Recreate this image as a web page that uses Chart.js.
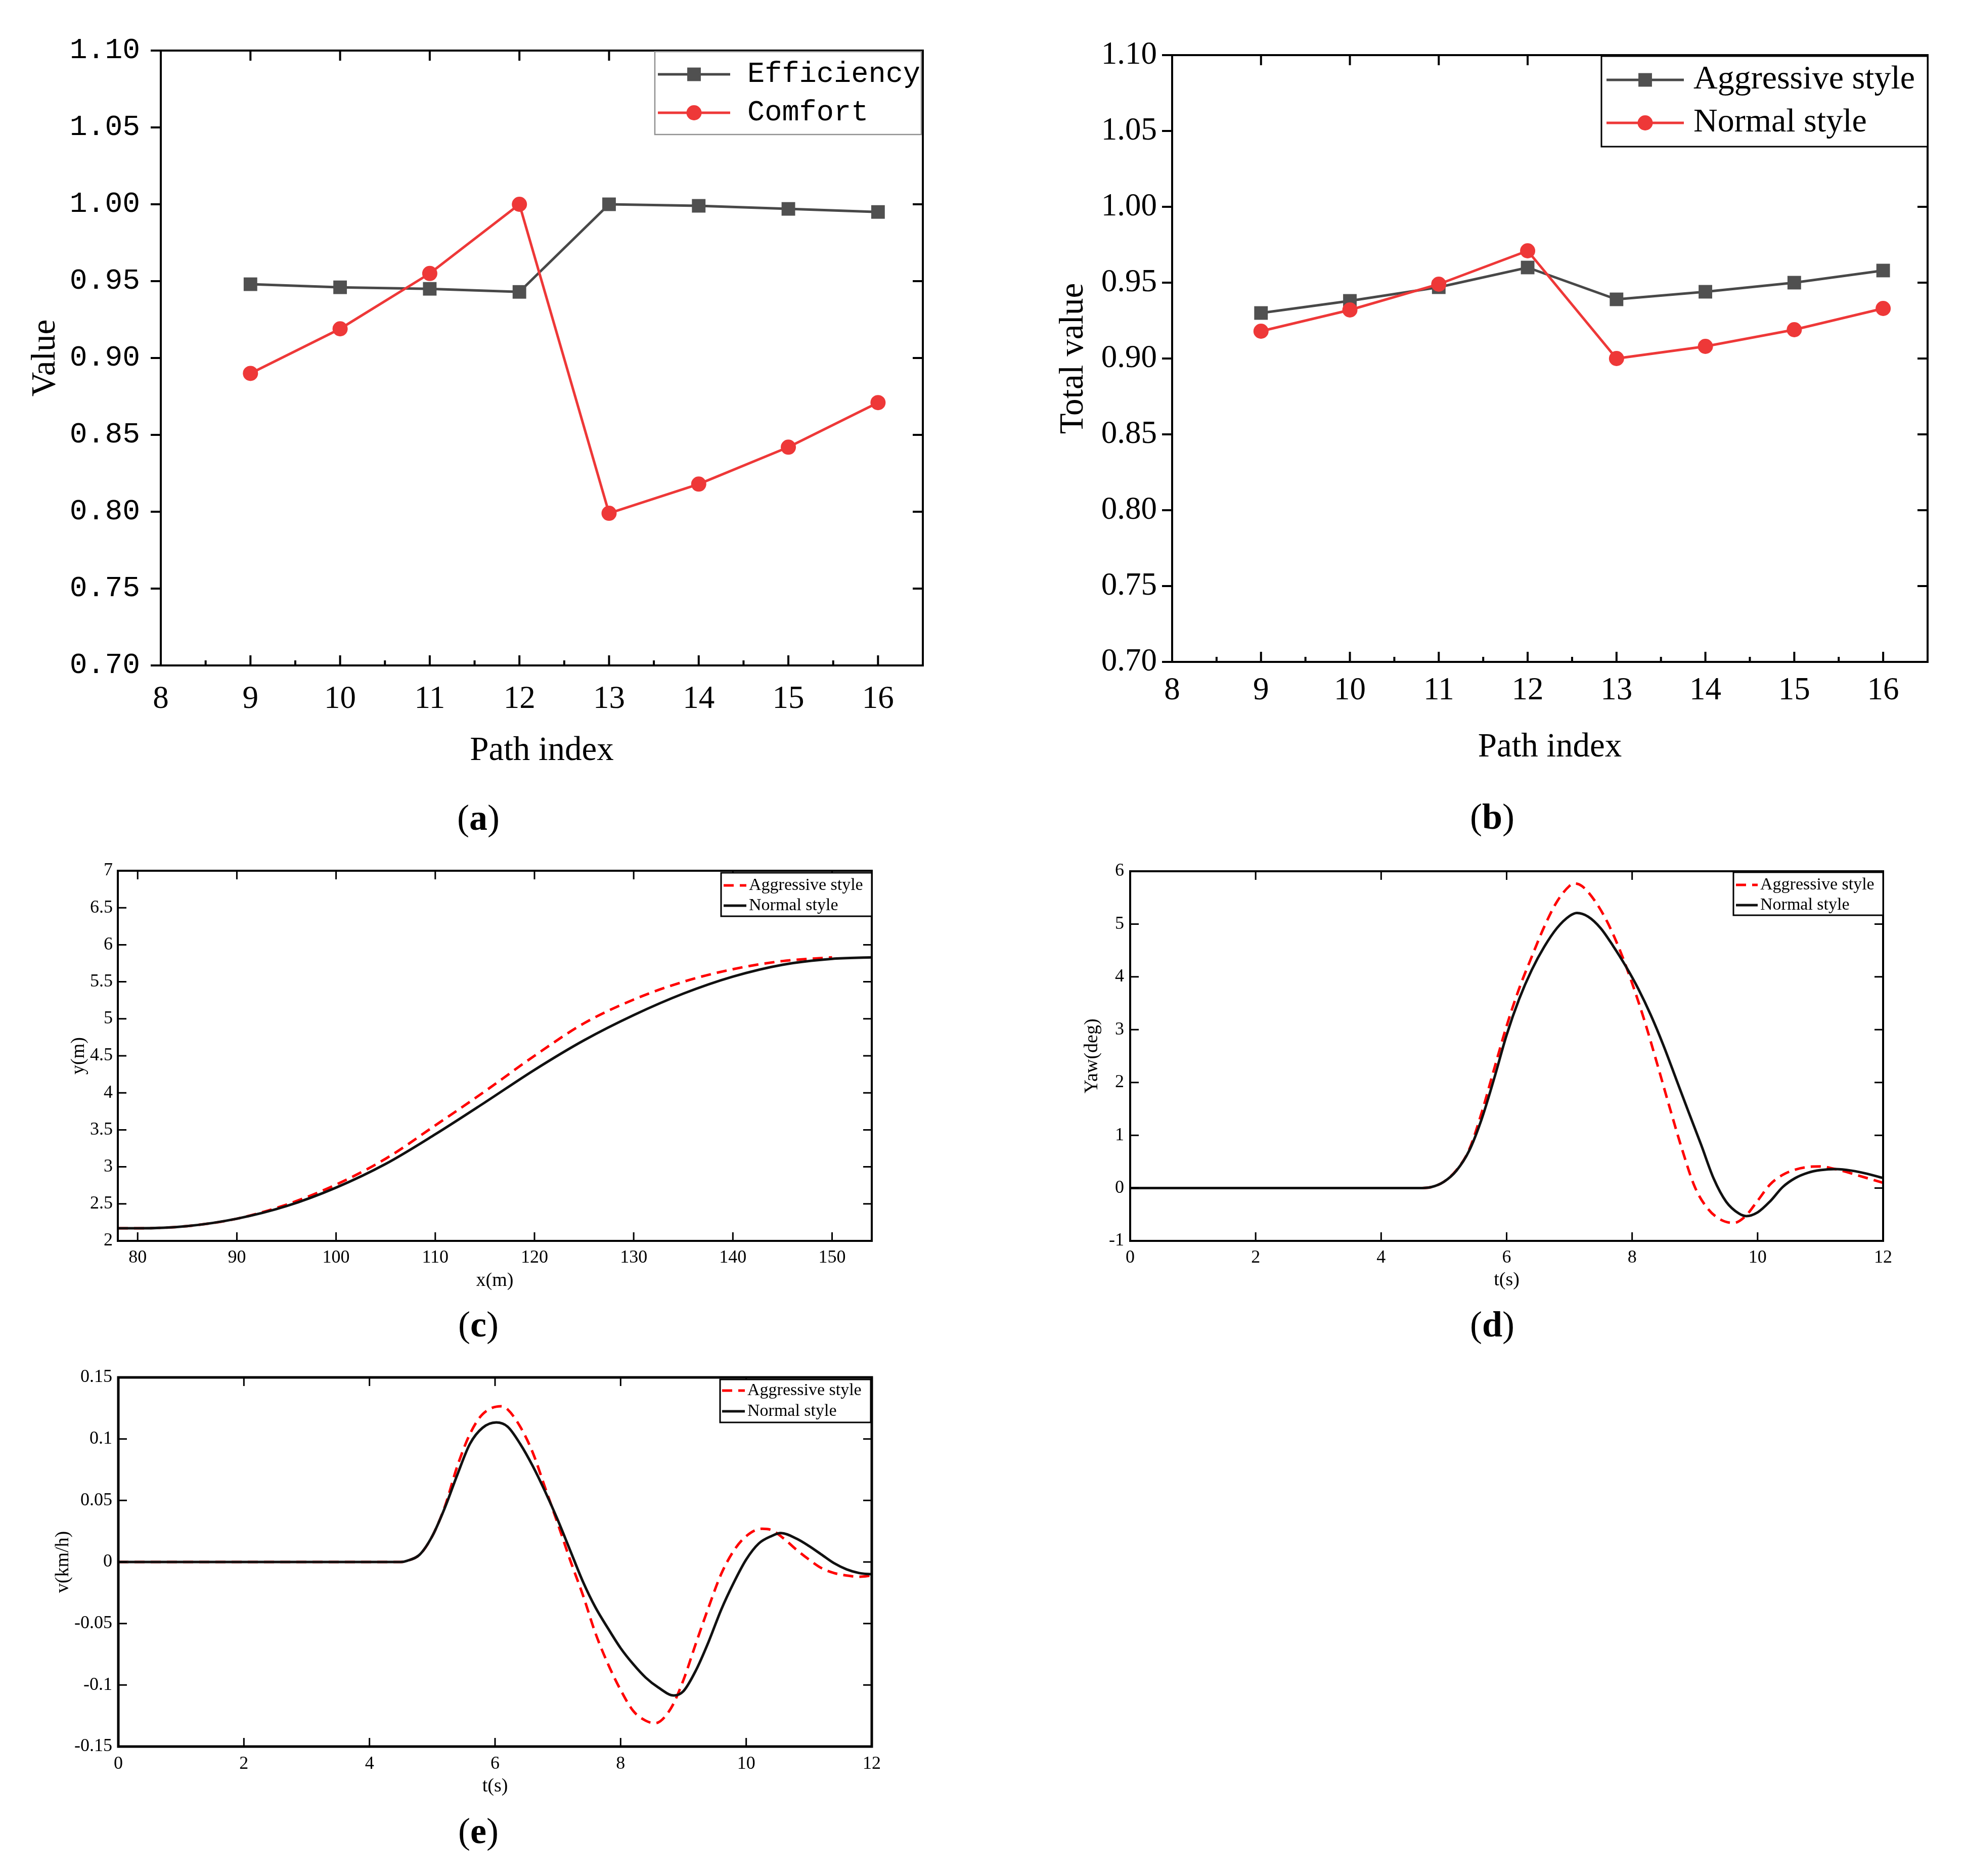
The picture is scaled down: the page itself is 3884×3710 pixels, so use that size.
<!DOCTYPE html>
<html>
<head>
<meta charset="utf-8">
<script src="https://cdn.jsdelivr.net/npm/chart.js@4.4.1/dist/chart.umd.min.js"></script>
<style>
html, body { margin: 0; padding: 0; background: #fff; }
#page { position: relative; width: 3884px; height: 3710px; background: #fff; overflow: hidden; }
canvas { position: absolute; }
.cap { position: absolute; font-family: "Liberation Serif", serif; font-size: 72px; line-height: 1;
       transform: translate(-50%, -50%); white-space: nowrap; color: #000; }
</style>
</head>
<body>
<div id="page">
  <canvas id="pa"></canvas>
  <canvas id="pb"></canvas>
  <canvas id="pc"></canvas>
  <canvas id="pd"></canvas>
  <canvas id="pe"></canvas>
  <div class="cap" style="left:946px;top:1617px">(<b>a</b>)</div>
  <div class="cap" style="left:2951px;top:1615px">(<b>b</b>)</div>
  <div class="cap" style="left:946px;top:2619px">(<b>c</b>)</div>
  <div class="cap" style="left:2951px;top:2619px">(<b>d</b>)</div>
  <div class="cap" style="left:946px;top:3621px">(<b>e</b>)</div>
</div>
<script>
// ---- (a) / (b) path evaluation
const pathIndex = [9, 10, 11, 12, 13, 14, 15, 16];
const efficiency = [0.948, 0.946, 0.945, 0.943, 1.000, 0.999, 0.997, 0.995];
const comfort = [0.890, 0.919, 0.955, 1.000, 0.799, 0.818, 0.842, 0.871];
const totalAggressive = [0.930, 0.938, 0.947, 0.960, 0.939, 0.944, 0.950, 0.958];
const totalNormal = [0.918, 0.932, 0.949, 0.971, 0.900, 0.908, 0.919, 0.933];
const pathTicks = [8, 9, 10, 11, 12, 13, 14, 15, 16];
const valueTicks = [0.70, 0.75, 0.80, 0.85, 0.90, 0.95, 1.00, 1.05, 1.10];

// ---- (c) trajectory y(x)
const xPos = [78, 80, 85, 90, 95, 100, 105, 110, 115, 120, 125, 130, 135, 140, 145, 150, 154];
const yNormal = [2.17, 2.17, 2.20, 2.30, 2.47, 2.72, 3.04, 3.44, 3.87, 4.31, 4.71, 5.05, 5.34, 5.57, 5.73, 5.81, 5.83];
const xPosAggr = [78, 80, 85, 90, 95, 100, 105, 110, 115, 120, 125, 130, 135, 140, 145, 150];
const yAggr = [2.17, 2.17, 2.20, 2.30, 2.49, 2.76, 3.11, 3.56, 4.02, 4.50, 4.94, 5.26, 5.50, 5.67, 5.78, 5.83];
const xmTicks = [80, 90, 100, 110, 120, 130, 140, 150];
const ymTicks = [2, 2.5, 3, 3.5, 4, 4.5, 5, 5.5, 6, 6.5, 7];

// ---- (d) yaw angle
const tYawNormal = [0, 4.6, 4.8, 5.0, 5.2, 5.4, 5.6, 5.8, 6.0, 6.2, 6.4, 6.6, 6.8, 7.0, 7.12, 7.3, 7.5, 7.7, 7.9,
  8.1, 8.3, 8.5, 8.7, 8.9, 9.1, 9.3, 9.5, 9.7, 9.82, 10.0, 10.2, 10.4, 10.6, 10.8, 11.0, 11.25, 11.5, 11.75, 12.0];
const yawNormal = [0, 0, 0.02, 0.12, 0.33, 0.70, 1.30, 2.07, 2.90, 3.58, 4.13, 4.57, 4.92, 5.15, 5.21, 5.14, 4.92, 4.58, 4.20,
  3.77, 3.27, 2.70, 2.07, 1.44, 0.82, 0.18, -0.26, -0.48, -0.53, -0.46, -0.25, 0.02, 0.19, 0.29, 0.34, 0.36, 0.33, 0.27, 0.19];
const tYawAggr = [0, 4.6, 4.8, 5.0, 5.2, 5.4, 5.6, 5.8, 6.0, 6.2, 6.4, 6.6, 6.8, 7.0, 7.08, 7.2, 7.4, 7.6, 7.8,
  8.0, 8.2, 8.4, 8.6, 8.8, 9.0, 9.2, 9.4, 9.62, 9.8, 10.0, 10.2, 10.4, 10.6, 10.8, 11.0, 11.2, 11.4, 11.6, 11.8, 12.0];
const yawAggr = [0, 0, 0.02, 0.12, 0.34, 0.72, 1.42, 2.25, 3.07, 3.78, 4.38, 4.95, 5.42, 5.72, 5.77, 5.72, 5.45, 5.05, 4.52,
  3.88, 3.16, 2.35, 1.52, 0.72, 0.02, -0.38, -0.59, -0.66, -0.54, -0.24, 0.07, 0.25, 0.35, 0.40, 0.41, 0.37, 0.31, 0.24, 0.17, 0.10];
const timeTicks = [0, 2, 4, 6, 8, 10, 12];
const yawTicks = [-1, 0, 1, 2, 3, 4, 5, 6];

// ---- (e) lateral velocity
const tVelNormal = [0, 4.5, 4.6, 4.8, 5.0, 5.2, 5.4, 5.6, 5.8, 6.02, 6.2, 6.4, 6.6, 6.8, 7.0, 7.2, 7.4, 7.6, 7.8, 8.0,
  8.2, 8.4, 8.6, 8.85, 9.0, 9.2, 9.4, 9.6, 9.8, 10.0, 10.2, 10.4, 10.55, 10.8, 11.0, 11.2, 11.4, 11.6, 11.8, 12.0];
const velNormal = [0, 0, 0.001, 0.006, 0.021, 0.044, 0.071, 0.096, 0.109, 0.1134, 0.110, 0.096, 0.078, 0.057, 0.034, 0.009,
  -0.016, -0.037, -0.054, -0.070, -0.083, -0.094, -0.102, -0.1085, -0.105, -0.088, -0.065, -0.039, -0.017, 0.002,
  0.015, 0.021, 0.0235, 0.019, 0.013, 0.006, -0.001, -0.006, -0.009, -0.010];
const tVelAggr = [0, 4.5, 4.6, 4.8, 5.0, 5.2, 5.4, 5.6, 5.8, 6.1, 6.2, 6.4, 6.6, 6.8, 7.0, 7.2, 7.4, 7.6, 7.8, 8.0,
  8.2, 8.4, 8.55, 8.8, 9.0, 9.2, 9.4, 9.6, 9.8, 10.0, 10.25, 10.4, 10.6, 10.8, 11.0, 11.2, 11.4, 11.6, 11.8, 12.0];
const velAggr = [0, 0, 0.001, 0.006, 0.021, 0.045, 0.078, 0.104, 0.120, 0.1266, 0.124, 0.110, 0.089, 0.060, 0.031, 0.001,
  -0.027, -0.058, -0.083, -0.104, -0.121, -0.129, -0.131, -0.119, -0.096, -0.066, -0.037, -0.010, 0.009, 0.021,
  0.027, 0.026, 0.019, 0.010, 0.002, -0.005, -0.009, -0.011, -0.012, -0.011];
const velTicks = [-0.15, -0.1, -0.05, 0, 0.05, 0.1, 0.15];

const pairs = (xs, ys) => xs.map((x, i) => ({ x: x, y: ys[i] }));

// box frame with tick marks on all four sides
const framePlugin = {
  id: 'frame',
  afterDatasetsDraw(chart, args, o) {
    const { ctx, chartArea: a } = chart;
    const sx = chart.scales.x, sy = chart.scales.y;
    ctx.save();
    ctx.strokeStyle = '#000';
    ctx.lineWidth = o.tickWidth;
    ctx.beginPath();
    const xs = sx.ticks.map(t => sx.getPixelForValue(t.value));
    xs.forEach(px => {
      ctx.moveTo(px, a.bottom); ctx.lineTo(px, a.bottom - o.len);
      ctx.moveTo(px, a.top); ctx.lineTo(px, a.top + o.len);
    });
    if (o.minorLen) {
      for (let i = 0; i < xs.length - 1; i++) {
        const m = (xs[i] + xs[i + 1]) / 2;
        ctx.moveTo(m, a.bottom); ctx.lineTo(m, a.bottom - o.minorLen);
      }
    }
    sy.ticks.forEach(t => {
      const py = sy.getPixelForValue(t.value);
      ctx.moveTo(a.left, py); ctx.lineTo(o.yOut ? a.left - o.len : a.left + o.len, py);
      ctx.moveTo(a.right, py); ctx.lineTo(a.right - o.len, py);
    });
    ctx.stroke();
    ctx.lineWidth = o.width;
    ctx.strokeRect(a.left, a.top, a.right - a.left, a.bottom - a.top);
    ctx.restore();
  }
};

// legend box in the top right corner of the plot
const boxLegend = {
  id: 'boxLegend',
  afterDraw(chart, args, o) {
    const { ctx, chartArea: a } = chart;
    const bx = a.right - o.dx - o.w, by = a.top + o.dy;
    ctx.save();
    ctx.fillStyle = '#fff';
    ctx.fillRect(bx, by, o.w, o.h);
    ctx.strokeStyle = o.border;
    ctx.lineWidth = o.borderWidth;
    ctx.strokeRect(bx, by, o.w, o.h);
    chart.data.datasets.forEach((ds, i) => {
      const yy = by + o.rows[i];
      ctx.strokeStyle = ds.borderColor;
      ctx.lineWidth = ds.borderWidth;
      ctx.setLineDash(ds.borderDash || []);
      ctx.beginPath();
      ctx.moveTo(bx + o.line[0], yy);
      ctx.lineTo(bx + o.line[1], yy);
      ctx.stroke();
      ctx.setLineDash([]);
      if (ds.pointRadius > 0) {
        const mx = bx + (o.line[0] + o.line[1]) / 2;
        ctx.fillStyle = ds.pointBackgroundColor;
        ctx.beginPath();
        if (ds.pointStyle === 'rect') {
          const s = ds.pointRadius * Math.SQRT1_2;
          ctx.rect(mx - s, yy - s, 2 * s, 2 * s);
        } else {
          ctx.arc(mx, yy, ds.pointRadius, 0, Math.PI * 2);
        }
        ctx.fill();
      }
      ctx.fillStyle = '#000';
      ctx.font = o.font;
      ctx.textBaseline = 'middle';
      ctx.textAlign = 'left';
      ctx.fillText(ds.label, bx + o.text, yy);
    });
    ctx.restore();
  }
};

function panel(id, p) {
  const cv = document.getElementById(id);
  cv.width = p.cw; cv.height = p.ch;
  cv.style.left = p.cx + 'px'; cv.style.top = p.cy + 'px';
  const yLH = p.yTitleFont.size * 1.2, xLH = p.xTitleFont.size * 1.2;
  return new Chart(cv, {
    type: 'line',
    data: { datasets: p.datasets },
    options: {
      responsive: false,
      animation: false,
      devicePixelRatio: 1,
      layout: { padding: { left: 0, top: p.T - p.cy, right: p.cx + p.cw - p.R, bottom: 0 } },
      plugins: { legend: { display: false }, tooltip: { enabled: false }, frame: p.frame, boxLegend: p.legend },
      scales: {
        x: {
          type: 'linear', min: p.xMin, max: p.xMax,
          grid: { display: false, drawTicks: false }, border: { display: false },
          afterBuildTicks: s => { s.ticks = p.xTicks.map(v => ({ value: v })); },
          afterFit: s => { s.height = p.cy + p.ch - p.B; },
          ticks: { color: '#000', font: p.xTickFont, padding: p.xPad, autoSkip: false, maxRotation: 0,
                   callback: v => String(v) },
          title: { display: true, text: p.xTitle, color: '#000', font: p.xTitleFont,
                   padding: { top: 0, bottom: p.cy + p.ch - p.xTitleY - xLH / 2 } }
        },
        y: {
          type: 'linear', min: p.yMin, max: p.yMax,
          grid: { display: false, drawTicks: false }, border: { display: false },
          afterBuildTicks: s => { s.ticks = p.yTicks.map(v => ({ value: v })); },
          afterFit: s => { s.width = p.L - p.cx; },
          ticks: { color: '#000', font: p.yTickFont, padding: p.yPad, autoSkip: false, callback: p.yFmt },
          title: { display: true, text: p.yTitle, color: '#000', font: p.yTitleFont,
                   padding: { top: p.yTitleX - p.cx - yLH / 2, bottom: 0 } }
        }
      }
    },
    plugins: [framePlugin, boxLegend]
  });
}

const serif = 'Liberation Serif';
const grayLine = '#484848', grayMark = '#505050', redAB = '#ee3838';

function markerSet(label, ys, color, mark, style, radius, order) {
  return {
    label: label, data: pairs(pathIndex, ys), order: order,
    borderColor: color, backgroundColor: color, borderWidth: 5, tension: 0,
    pointStyle: style, pointRadius: radius, pointBackgroundColor: mark, pointBorderColor: mark,
    pointBorderWidth: 0, pointHoverRadius: radius
  };
}

function curveSet(label, xs, ys, color, dash, order) {
  return {
    label: label, data: pairs(xs, ys), order: order,
    borderColor: color, borderWidth: 5, borderDash: dash, pointRadius: 0, pointHoverRadius: 0,
    cubicInterpolationMode: 'monotone', fill: false
  };
}

// (a)
panel('pa', {
  cx: 0, cy: 0, cw: 1942, ch: 1560, L: 318, R: 1825, T: 100, B: 1316,
  xMin: 8, xMax: 16.5, yMin: 0.70, yMax: 1.10, xTicks: pathTicks, yTicks: valueTicks,
  xTickFont: { family: serif, size: 63 }, yTickFont: { family: 'Liberation Mono', size: 58 },
  xPad: 30, yPad: 41, yFmt: v => v.toFixed(2),
  xTitle: 'Path index', yTitle: 'Value', xTitleFont: { family: serif, size: 67 }, yTitleFont: { family: serif, size: 67 },
  xTitleY: 1485, yTitleX: 90,
  frame: { len: 20, minorLen: 10, yOut: true, width: 4, tickWidth: 4 },
  legend: { w: 527, h: 164, dx: 3, dy: 2, line: [6, 149], text: 183, rows: [45, 121],
            font: '57px "Liberation Mono"', border: '#909090', borderWidth: 2.5 },
  datasets: [
    markerSet('Efficiency', efficiency, grayLine, grayMark, 'rect', 19, 1),
    markerSet('Comfort', comfort, redAB, redAB, 'circle', 15, 0)
  ]
});

// (b)
panel('pb', {
  cx: 1942, cy: 0, cw: 1942, ch: 1560, L: 2318, R: 3812, T: 109, B: 1309,
  xMin: 8, xMax: 16.5, yMin: 0.70, yMax: 1.10, xTicks: pathTicks, yTicks: valueTicks,
  xTickFont: { family: serif, size: 63 }, yTickFont: { family: serif, size: 63 },
  xPad: 20, yPad: 30, yFmt: v => v.toFixed(2),
  xTitle: 'Path index', yTitle: 'Total value', xTitleFont: { family: serif, size: 67 }, yTitleFont: { family: serif, size: 67 },
  xTitleY: 1478, yTitleX: 2123,
  frame: { len: 20, minorLen: 10, yOut: true, width: 4, tickWidth: 4 },
  legend: { w: 645, h: 179, dx: 0, dy: 2, line: [10, 163], text: 182, rows: [47, 132],
            font: '66px "Liberation Serif"', border: '#000', borderWidth: 3 },
  datasets: [
    markerSet('Aggressive style', totalAggressive, grayLine, grayMark, 'rect', 19, 1),
    markerSet('Normal style', totalNormal, redAB, redAB, 'circle', 15, 0)
  ]
});

const smallTick = { family: serif, size: 36 };
const smallTitle = { family: serif, size: 38 };
const smallFrame = { len: 17, minorLen: 0, yOut: false, width: 4, tickWidth: 3 };
const smallLegend = { w: 298, h: 86, dx: 0, dy: 4, line: [5, 50], text: 55, rows: [25, 65],
                      font: '34px "Liberation Serif"', border: '#000', borderWidth: 3 };

// (c)
panel('pc', {
  cx: 0, cy: 1660, cw: 1942, ch: 920, L: 233, R: 1724, T: 1722, B: 2454,
  xMin: 78, xMax: 154, yMin: 2, yMax: 7, xTicks: xmTicks, yTicks: ymTicks,
  xTickFont: smallTick, yTickFont: smallTick, xPad: 12, yPad: 10, yFmt: v => String(v),
  xTitle: 'x(m)', yTitle: 'y(m)', xTitleFont: smallTitle, yTitleFont: smallTitle,
  xTitleY: 2533, yTitleX: 156,
  frame: smallFrame, legend: smallLegend,
  datasets: [
    curveSet('Aggressive style', xPosAggr, yAggr, '#ff0000', [20, 12], 1),
    curveSet('Normal style', xPos, yNormal, '#111111', [], 0)
  ]
});

// (d)
panel('pd', {
  cx: 1942, cy: 1660, cw: 1942, ch: 920, L: 2235, R: 3724, T: 1723, B: 2454,
  xMin: 0, xMax: 12, yMin: -1, yMax: 6, xTicks: timeTicks, yTicks: yawTicks,
  xTickFont: smallTick, yTickFont: smallTick, xPad: 12, yPad: 12, yFmt: v => String(v),
  xTitle: 't(s)', yTitle: 'Yaw(deg)', xTitleFont: smallTitle, yTitleFont: smallTitle,
  xTitleY: 2532, yTitleX: 2160,
  frame: smallFrame, legend: Object.assign({}, smallLegend, { w: 296, h: 85, dy: 2, line: [5, 48], text: 53 }),
  datasets: [
    curveSet('Aggressive style', tYawAggr, yawAggr, '#ff0000', [20, 12], 1),
    curveSet('Normal style', tYawNormal, yawNormal, '#111111', [], 0)
  ]
});

// (e)
panel('pe', {
  cx: 0, cy: 2660, cw: 1942, ch: 940, L: 234, R: 1724, T: 2724, B: 3454,
  xMin: 0, xMax: 12, yMin: -0.15, yMax: 0.15, xTicks: timeTicks, yTicks: velTicks,
  xTickFont: smallTick, yTickFont: smallTick, xPad: 13, yPad: 12, yFmt: v => String(v),
  xTitle: 't(s)', yTitle: 'v(km/h)', xTitleFont: smallTitle, yTitleFont: smallTitle,
  xTitleY: 3533, yTitleX: 125,
  frame: Object.assign({}, smallFrame, { width: 5 }),
  legend: Object.assign({}, smallLegend, { dx: 2, h: 85, line: [4, 49], text: 54, rows: [22, 63] }),
  datasets: [
    curveSet('Aggressive style', tVelAggr, velAggr, '#ff0000', [20, 12], 1),
    curveSet('Normal style', tVelNormal, velNormal, '#111111', [], 0)
  ]
});
</script>
</body>
</html>
